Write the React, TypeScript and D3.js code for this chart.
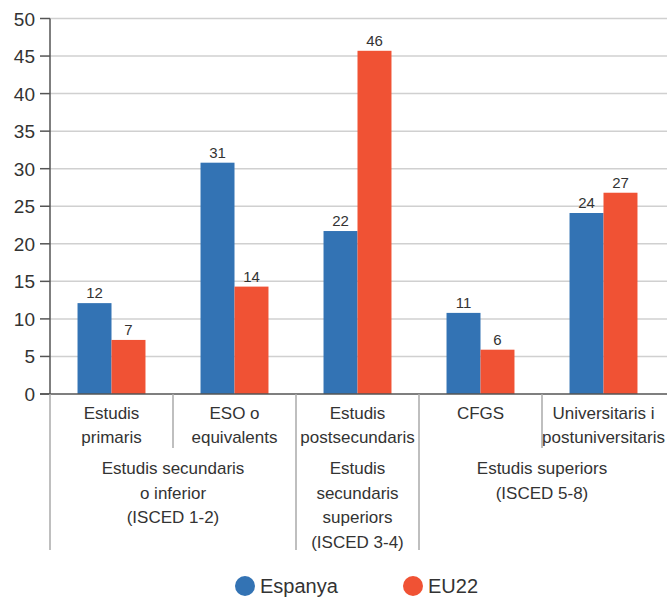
import React, { useEffect, useRef } from 'react';
import { select, scaleBand, scaleLinear, range } from 'd3';

// Data (percent)
const categories = ['Estudis primaris', 'ESO o equivalents', 'Estudis postsecundaris', 'CFGS', 'Universitaris i postuniversitaris'];
const categoryLines = [
  ['Estudis', 'primaris'],
  ['ESO o', 'equivalents'],
  ['Estudis', 'postsecundaris'],
  ['CFGS'],
  ['Universitaris i', 'postuniversitaris'],
];
const espanya = [12.1, 30.8, 21.7, 10.8, 24.1];
const eu22 = [7.2, 14.3, 45.7, 5.9, 26.8];
const seriesNames = ['Espanya', 'EU22'];
const groupLines = [
  ['Estudis secundaris', 'o inferior', '(ISCED 1-2)'],
  ['Estudis', 'secundaris', 'superiors', '(ISCED 3-4)'],
  ['Estudis superiors', '(ISCED 5-8)'],
];
const groupSpans = [[0, 2], [2, 3], [3, 5]];
const yTicks = [0, 5, 10, 15, 20, 25, 30, 35, 40, 45, 50];

const colors = ['#3373b4', '#f05234'];
const FONT = '"Liberation Sans", Arial, Helvetica, sans-serif';
const TEXT = '#333';

const App: React.FC = () => {
  const svgRef = useRef<SVGSVGElement>(null);

  useEffect(() => {
    if (!svgRef.current) return;
    const width = 667;
    const height = 597;
    const left = 50;
    const right = 665;
    const top = 18.5;
    const bottom = 394;

    const svg = select(svgRef.current)
      .attr('width', width)
      .attr('height', height)
      .html('');

    const x = scaleBand<string>().domain(categories).range([left, right]).padding(0);
    const x1 = scaleBand<string>().domain(seriesNames).range([0, x.bandwidth()]).paddingInner(0).paddingOuter(0.81);
    const y = scaleLinear().domain([0, 50]).range([bottom, top]);

    // gridlines
    svg.append('g')
      .selectAll('line')
      .data(yTicks.filter(t => t > 0))
      .enter()
      .append('line')
      .attr('x1', left)
      .attr('x2', width)
      .attr('y1', d => y(d))
      .attr('y2', d => y(d))
      .attr('stroke', '#d0d0d0')
      .attr('stroke-width', 1.5);

    // y ticks + labels
    const yAxis = svg.append('g');
    yAxis.selectAll('line')
      .data(yTicks)
      .enter()
      .append('line')
      .attr('x1', left - 10)
      .attr('x2', left)
      .attr('y1', d => y(d))
      .attr('y2', d => y(d))
      .attr('stroke', '#555')
      .attr('stroke-width', 1.5);
    yAxis.selectAll('text')
      .data(yTicks)
      .enter()
      .append('text')
      .attr('x', left - 15)
      .attr('y', d => y(d) + 7)
      .attr('text-anchor', 'end')
      .attr('font-family', FONT)
      .attr('font-size', 19)
      .attr('fill', TEXT)
      .text(d => d);

    // bars
    const values = [espanya, eu22];
    const barG = svg.append('g');
    seriesNames.forEach((name, si) => {
      const data = categories.map((c, i) => ({ c, v: values[si][i] }));
      barG.selectAll(`rect.s${si}`)
        .data(data)
        .enter()
        .append('rect')
        .attr('class', `s${si}`)
        .attr('x', d => (x(d.c) ?? 0) + (x1(name) ?? 0))
        .attr('y', d => y(d.v))
        .attr('width', x1.bandwidth())
        .attr('height', d => bottom - y(d.v))
        .attr('fill', colors[si]);
      barG.selectAll(`text.s${si}`)
        .data(data)
        .enter()
        .append('text')
        .attr('class', `s${si}`)
        .attr('x', d => (x(d.c) ?? 0) + (x1(name) ?? 0) + x1.bandwidth() / 2)
        .attr('y', d => y(d.v) - 5)
        .attr('text-anchor', 'middle')
        .attr('font-family', FONT)
        .attr('font-size', 15)
        .attr('fill', TEXT)
        .text(d => Math.round(d.v));
    });

    // axes lines
    svg.append('line')
      .attr('x1', left).attr('x2', left)
      .attr('y1', top).attr('y2', bottom)
      .attr('stroke', '#555').attr('stroke-width', 1.5);
    svg.append('line')
      .attr('x1', left - 10).attr('x2', width)
      .attr('y1', bottom).attr('y2', bottom)
      .attr('stroke', '#555').attr('stroke-width', 1.5);

    // category separators (short within groups, long between groups)
    const groupStarts = new Set(groupSpans.map(s => s[0]));
    const sepG = svg.append('g');
    sepG.selectAll('line')
      .data(range(categories.length))
      .enter()
      .append('line')
      .attr('x1', i => x(categories[i]) ?? 0)
      .attr('x2', i => x(categories[i]) ?? 0)
      .attr('y1', bottom)
      .attr('y2', i => (groupStarts.has(i) ? 550 : 448))
      .attr('stroke', '#aaa')
      .attr('stroke-width', 1.5);

    // category labels
    categoryLines.forEach((lines, i) => {
      const cx = (x(categories[i]) ?? 0) + x.bandwidth() / 2;
      const t = svg.append('text')
        .attr('text-anchor', 'middle')
        .attr('font-family', FONT)
        .attr('font-size', 17)
        .attr('fill', TEXT);
      lines.forEach((l, li) => {
        t.append('tspan').attr('x', cx).attr('y', 419 + li * 24).text(l);
      });
    });

    // group labels
    groupLines.forEach((lines, gi) => {
      const [s, e] = groupSpans[gi];
      const x0 = x(categories[s]) ?? 0;
      const xe = (x(categories[e - 1]) ?? 0) + x.bandwidth();
      const cx = (x0 + xe) / 2;
      const t = svg.append('text')
        .attr('text-anchor', 'middle')
        .attr('font-family', FONT)
        .attr('font-size', 17)
        .attr('fill', TEXT);
      lines.forEach((l, li) => {
        t.append('tspan').attr('x', cx).attr('y', 474 + li * 24.5).text(l);
      });
    });

    // legend
    const legendX = [245, 413];
    const legend = svg.append('g');
    seriesNames.forEach((name, i) => {
      legend.append('circle')
        .attr('cx', legendX[i])
        .attr('cy', 586)
        .attr('r', 10)
        .attr('fill', colors[i]);
      legend.append('text')
        .attr('x', legendX[i] + 15)
        .attr('y', 593)
        .attr('font-family', FONT)
        .attr('font-size', 20)
        .attr('fill', TEXT)
        .text(name);
    });
  }, []);

  return (
    <div style={{ position: 'absolute', left: 0, top: 0, width: 667, height: 597, background: '#fff' }}>
      <svg ref={svgRef} style={{ display: 'block' }}></svg>
    </div>
  );
};

export default App;
